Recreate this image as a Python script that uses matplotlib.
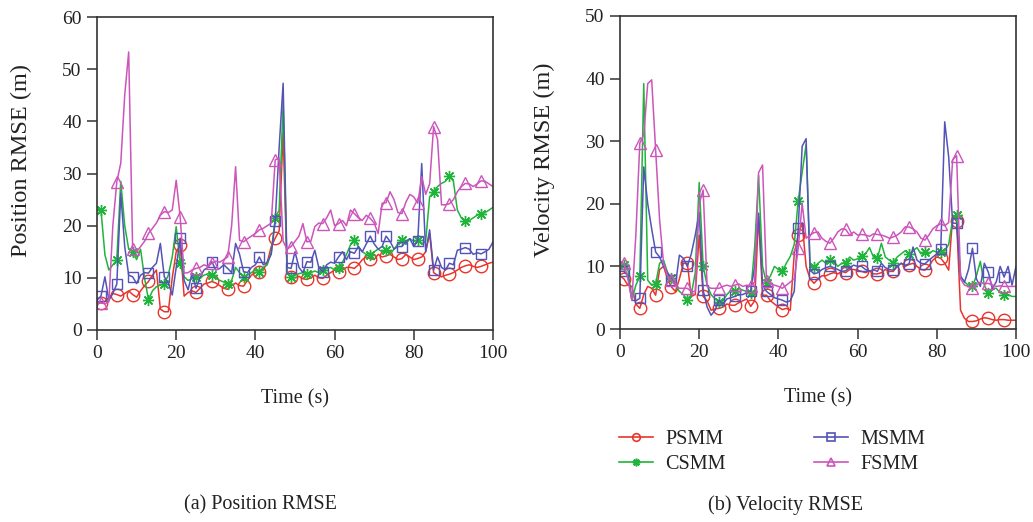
import numpy as np
import matplotlib
matplotlib.use("Agg")
import matplotlib.pyplot as plt
from matplotlib.lines import Line2D

time_s = list(range(0, 101))

# ---------- Position RMSE (m) ----------
pos_psmm = [5.0, 5.2, 5.5, 6.2, 7.0, 6.8, 6.5, 7.0, 7.5, 6.8, 6.3, 7.5, 8.5, 9.3, 10.5, 11.5, 4.0, 3.5, 3.5, 10.0,
            15.0, 16.3, 6.5, 7.2, 7.5, 7.2, 8.0, 8.8, 9.0, 9.3, 9.0, 8.5, 8.0, 7.8, 8.5, 9.0, 8.5, 8.4, 9.5, 10.5,
            11.0, 11.2, 11.5, 13.0, 16.0, 17.6, 19.0, 38.0, 11.0, 10.2, 10.0, 10.3, 9.8, 9.7, 10.0, 10.5, 10.0, 9.9, 10.5, 11.0,
            11.5, 11.2, 11.5, 12.0, 12.0, 11.8, 12.5, 13.5, 14.0, 13.7, 13.5, 14.5, 14.0, 14.2, 14.5, 14.0, 13.5, 13.7, 14.5, 14.0,
            13.5, 13.7, 14.0, 15.0, 18.5, 11.0, 10.5, 10.2, 10.5, 10.7, 11.0, 11.5, 12.0, 12.3, 12.5, 12.2, 12.0, 12.2, 12.5, 12.8,
            13.0]
pos_csmm = [23.1, 23.0, 14.4, 11.5, 12.5, 13.4, 28.5, 20.0, 15.5, 15.0, 13.5, 15.5, 10.0, 5.8, 7.5, 8.3, 8.6, 8.9, 10.5, 14.0,
            19.8, 12.8, 10.2, 9.5, 9.8, 10.2, 10.0, 10.5, 10.8, 10.5, 10.0, 9.5, 9.2, 8.9, 9.5, 12.0, 11.0, 10.2, 10.5, 11.0,
            11.5, 11.2, 12.0, 12.5, 15.0, 21.4, 23.0, 43.5, 11.0, 10.2, 10.5, 10.8, 11.0, 10.8, 11.0, 11.3, 11.0, 11.5, 11.8, 12.0,
            11.5, 11.8, 13.0, 14.5, 16.3, 17.2, 16.0, 15.0, 14.5, 14.4, 15.0, 15.5, 15.0, 15.3, 14.5, 15.5, 16.5, 17.2, 16.5, 17.5,
            17.0, 17.2, 16.5, 17.0, 25.5, 26.5, 27.5, 28.1, 28.5, 29.6, 28.5, 23.0, 21.5, 20.8, 21.0, 21.5, 22.0, 22.3, 22.5, 23.0,
            23.5]
pos_msmm = [5.7, 6.5, 10.2, 5.7, 7.0, 8.8, 26.2, 16.0, 10.5, 10.2, 8.9, 10.5, 11.0, 10.9, 12.0, 12.8, 16.6, 10.2, 9.0, 6.7,
            12.0, 17.6, 9.5, 7.7, 10.9, 8.0, 10.0, 11.5, 12.0, 13.1, 11.5, 11.8, 12.5, 11.8, 11.0, 16.6, 14.5, 11.2, 11.0, 12.0,
            12.5, 14.0, 12.5, 13.0, 14.5, 20.8, 35.0, 47.3, 12.0, 11.8, 15.0, 12.0, 11.0, 13.1, 13.0, 15.3, 12.0, 11.2, 12.5, 13.0,
            12.8, 14.0, 15.0, 13.5, 15.0, 14.7, 16.0, 15.0, 16.5, 18.0, 16.5, 15.5, 16.0, 18.0, 17.0, 15.5, 16.0, 16.0, 17.0, 17.5,
            16.0, 17.1, 31.9, 15.0, 19.2, 11.5, 14.0, 12.0, 11.5, 12.8, 12.5, 15.3, 15.5, 15.8, 15.5, 14.5, 14.8, 14.6, 15.0, 15.5,
            16.9]
pos_fsmm = [5.2, 5.2, 5.0, 5.4, 20.0, 28.4, 32.0, 45.0, 53.3, 15.6, 15.0, 16.0, 17.0, 18.5, 19.5, 20.5, 22.0, 22.7, 22.5, 23.0,
            28.7, 21.7, 10.9, 11.0, 11.5, 11.8, 12.0, 12.5, 12.2, 12.8, 13.2, 13.0, 13.5, 14.0, 20.0, 31.3, 17.2, 16.9, 17.5, 18.0,
            18.5, 19.2, 19.5, 20.0, 20.5, 32.6, 33.0, 17.0, 15.5, 16.0, 17.0, 18.0, 20.4, 16.9, 17.0, 19.8, 20.5, 20.4, 21.5, 23.0,
            20.0, 20.4, 21.0, 20.0, 23.0, 22.3, 21.5, 21.0, 22.0, 21.4, 20.5, 18.5, 24.3, 24.4, 26.5, 25.0, 22.5, 22.3, 24.5, 26.0,
            25.5, 24.3, 29.4, 26.0, 28.0, 39.0, 36.5, 24.0, 24.0, 24.2, 25.0, 26.5, 27.5, 28.1, 28.0, 27.5, 28.0, 28.6, 28.5, 28.0,
            27.5]

# ---------- Velocity RMSE (m) ----------
vel_psmm = [8.5, 8.0, 7.0, 6.8, 4.0, 3.3, 5.5, 6.8, 6.5, 5.4, 9.5, 10.0, 8.0, 6.7, 6.0, 8.0, 10.5, 10.5, 5.2, 5.5,
            15.0, 5.2, 4.5, 3.0, 3.2, 3.3, 3.5, 4.0, 3.8, 3.8, 4.2, 4.5, 4.8, 3.6, 4.5, 18.0, 5.4, 5.4, 4.5, 4.0,
            3.5, 3.1, 3.3, 3.0, 12.0, 15.0, 17.0, 10.0, 8.0, 7.3, 8.0, 8.5, 8.5, 8.8, 9.0, 8.8, 9.2, 9.0, 9.5, 9.5,
            9.4, 9.2, 9.0, 9.3, 8.8, 8.8, 9.0, 9.5, 9.2, 9.2, 10.0, 10.5, 10.0, 10.3, 10.5, 10.0, 9.5, 9.4, 10.0, 11.0,
            11.5, 11.3, 10.5, 9.4, 17.9, 17.2, 3.0, 1.7, 1.2, 1.2, 1.3, 1.6, 1.8, 1.7, 1.5, 1.4, 1.5, 1.5, 1.4, 1.4,
            1.4]
vel_csmm = [10.2, 10.2, 9.5, 4.6, 7.0, 8.4, 39.2, 7.8, 7.0, 7.2, 10.5, 11.0, 9.0, 8.1, 7.0, 6.0, 5.5, 4.7, 5.5, 9.0,
            23.4, 10.0, 7.0, 5.5, 4.8, 4.3, 4.5, 5.5, 6.2, 6.0, 6.5, 6.2, 6.0, 5.8, 13.0, 24.5, 10.0, 7.3, 8.5, 10.0,
            9.5, 9.2, 10.5, 11.6, 13.5, 20.5, 25.0, 29.5, 10.0, 9.9, 10.5, 11.0, 10.5, 11.0, 10.8, 10.0, 10.5, 10.6, 11.5, 11.0,
            11.2, 11.6, 12.0, 13.0, 11.5, 11.3, 13.7, 11.5, 11.0, 10.6, 11.5, 12.0, 12.5, 12.0, 12.5, 13.0, 12.0, 12.3, 12.0, 12.5,
            12.3, 12.3, 12.5, 13.5, 17.5, 18.2, 8.4, 7.5, 7.0, 6.8, 8.5, 10.8, 7.0, 5.7, 6.5, 6.5, 5.8, 5.4, 5.5, 5.2,
            5.2]
vel_msmm = [9.2, 9.2, 8.5, 4.6, 4.5, 4.9, 25.9, 20.0, 16.0, 12.3, 11.5, 10.0, 9.0, 7.9, 7.0, 11.8, 11.3, 10.0, 12.0, 15.0,
            18.6, 6.2, 3.5, 2.2, 3.0, 4.6, 4.0, 4.8, 5.0, 5.2, 5.5, 5.5, 5.8, 6.0, 10.0, 18.5, 7.0, 6.0, 5.5, 5.0,
            4.8, 4.6, 4.3, 4.5, 6.0, 16.1, 29.2, 30.4, 9.4, 8.8, 9.0, 9.5, 9.8, 10.0, 9.8, 9.5, 9.2, 9.3, 9.8, 10.2,
            10.0, 10.0, 9.5, 9.2, 9.5, 9.2, 10.5, 9.8, 9.5, 9.4, 10.0, 10.5, 10.2, 10.4, 13.1, 11.0, 10.5, 10.4, 11.0, 11.5,
            12.0, 12.7, 33.1, 27.5, 16.9, 16.9, 8.4, 7.5, 9.5, 12.9, 8.0, 6.8, 10.5, 9.1, 6.5, 7.5, 10.0, 8.3, 10.0, 7.0,
            10.0]
vel_fsmm = [10.5, 10.5, 8.0, 4.6, 15.0, 29.7, 31.0, 39.2, 39.8, 28.6, 17.4, 10.5, 8.5, 7.8, 7.0, 6.5, 6.5, 6.5, 6.0, 6.0,
            20.0, 22.2, 6.8, 6.5, 6.5, 6.5, 6.8, 7.0, 6.8, 7.0, 7.2, 6.8, 7.0, 6.9, 7.5, 25.0, 26.2, 7.7, 7.2, 7.0,
            6.8, 6.5, 7.0, 7.5, 8.0, 12.9, 20.1, 14.5, 15.0, 15.4, 15.5, 14.5, 14.0, 13.7, 14.5, 15.5, 16.0, 15.9, 15.0, 15.5,
            15.0, 15.1, 15.0, 14.8, 15.2, 15.1, 15.0, 14.8, 14.5, 14.7, 15.0, 15.5, 16.3, 16.3, 16.0, 15.5, 14.5, 14.2, 15.0, 16.0,
            16.5, 16.8, 16.5, 17.0, 27.0, 27.7, 8.0, 7.0, 6.8, 6.5, 7.0, 7.5, 7.2, 7.3, 7.0, 6.8, 6.9, 6.8, 6.8, 6.8,
            6.8]

series_names = ["PSMM", "CSMM", "MSMM", "FSMM"]
colors = ["#e8352b", "#1fb43a", "#5353b8", "#cc55bb"]
markers = ["o", (8, 2, 0), "s", "^"]
msizes = [9, 8, 7, 9]

plt.rcParams["font.family"] = ["Liberation Serif", "DejaVu Serif"]

fig = plt.figure(figsize=(10.33, 5.22), dpi=100)
W, H = 1033, 522
ax1 = fig.add_axes([97 / W, 1 - 330 / H, 396 / W, 313 / H])
ax2 = fig.add_axes([620 / W, 1 - 329 / H, 396 / W, 313 / H])
txt = "#222222"

def draw(ax, data, ymax, ylabel):
    for vals, c, m, ms in zip(data, colors, markers, msizes):
        ax.plot(time_s, vals, color=c, lw=1.1, marker=m, ms=ms, mfc="none",
                mec=c, mew=1.0, markevery=(1, 4))
    ax.set_xlim(0, 100)
    ax.set_ylim(0, ymax)
    ax.set_xticks([0, 20, 40, 60, 80, 100])
    ax.set_yticks(np.arange(0, ymax + 1, 10))
    ax.tick_params(direction="out", length=7, width=1.1, color="#333333",
                   labelsize=14, labelcolor=txt, pad=4)
    for s in ax.spines.values():
        s.set_color("#333333")
        s.set_linewidth(1.2)
    ax.set_xlabel("Time (s)", fontsize=14.5, color=txt, va="top")
    ax.xaxis.set_label_coords(0.5, -0.19)
    ax.set_ylabel(ylabel, fontsize=17.5, color=txt)
    ax.yaxis.set_label_coords(-0.165, 0.54)

draw(ax1, [pos_psmm, pos_csmm, pos_msmm, pos_fsmm], 60, "Position RMSE (m)")
draw(ax2, [vel_psmm, vel_csmm, vel_msmm, vel_fsmm], 50, "Velocity RMSE (m)")

fig.text(260 / W, 1 - 505 / H, "(a) Position RMSE", ha="center", va="center",
         fontsize=14.5, color=txt)
fig.text(785 / W, 1 - 505 / H, "(b) Velocity RMSE", ha="center", va="center",
         fontsize=14.5, color=txt)

handles = [Line2D([], [], color=c, lw=1.2, marker=m, ms=5.5, mfc="none", mec=c, mew=1.2)
           for c, m in zip(colors, markers)]
fig.legend(handles, series_names, ncol=2, loc="center", bbox_to_anchor=(772 / W, 1 - 452 / H),
           frameon=False, fontsize=14.5, handlelength=1.7, columnspacing=4.4,
           handletextpad=0.6, labelspacing=0.3, labelcolor=txt)

fig.savefig("out.png", dpi=100)
